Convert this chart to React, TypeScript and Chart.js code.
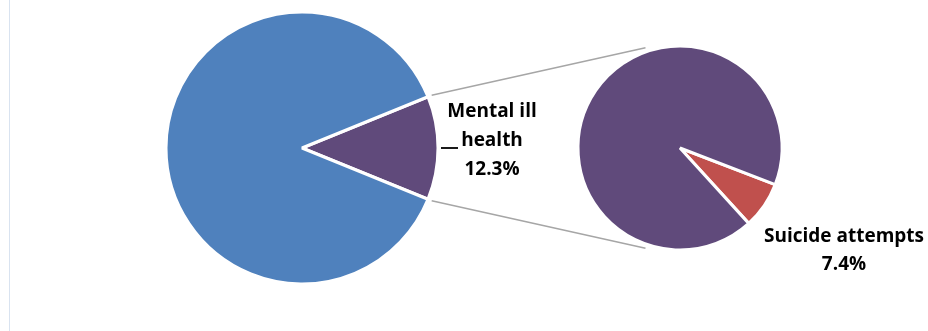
import { useEffect, useRef } from "react";
import { Chart, registerables } from "chart.js";

Chart.register(...registerables);

const mainCategories = ["Mental ill health", "Other"];
const mainValues = [12.3, 87.7];
const mainColors = ["#604a7b", "#4f81bd"];

const subCategories = ["Suicide attempts", "Other mental ill health"];
const subValues = [7.4, 92.6];
const subColors = ["#c0504d", "#604a7b"];

const mainLabelLines = ["Mental ill", "health", "12.3%"];
const subLabelLines = ["Suicide attempts", "7.4%"];

const W = 928;
const H = 331;
const FONT = "bold 19px 'Open Sans', 'Liberation Sans', sans-serif";

export default function App() {
  const leftRef = useRef<HTMLCanvasElement>(null);
  const rightRef = useRef<HTMLCanvasElement>(null);

  useEffect(() => {
    const mainTotal = mainValues.reduce((a, b) => a + b, 0);
    const left = new Chart(leftRef.current!, {
      type: "pie",
      data: {
        labels: mainCategories,
        datasets: [
          {
            data: mainValues,
            backgroundColor: mainColors,
            borderColor: "#ffffff",
            borderWidth: 3,
          },
        ],
      },
      options: {
        responsive: false,
        animation: false,
        rotation: 90 - (mainValues[0] / mainTotal) * 180,
        radius: 136,
        layout: { padding: { left: 0, right: 324, top: 0, bottom: 35 } },
        plugins: { legend: { display: false }, tooltip: { enabled: false } },
      } as any,
    });

    const overlay = {
      id: "overlay",
      beforeDatasetsDraw(chart: any) {
        const ctx = chart.ctx as CanvasRenderingContext2D;
        const la = left.getDatasetMeta(0).data[0] as any;
        const ra = chart.getDatasetMeta(0).data[0] as any;
        const lp = la.getProps(["x", "y", "startAngle", "endAngle", "outerRadius"], true);
        const rp = ra.getProps(["x", "y", "outerRadius"], true);
        const lr = lp.outerRadius + 4;
        const rr = rp.outerRadius + 4;
        const a = (109 * Math.PI) / 180;
        ctx.save();
        ctx.strokeStyle = "#a6a6a6";
        ctx.lineWidth = 1.5;
        ctx.beginPath();
        ctx.moveTo(lp.x + lr * Math.cos(lp.startAngle), lp.y + lr * Math.sin(lp.startAngle));
        ctx.lineTo(rp.x + rr * Math.cos(-a), rp.y + rr * Math.sin(-a));
        ctx.moveTo(lp.x + lr * Math.cos(lp.endAngle), lp.y + lr * Math.sin(lp.endAngle));
        ctx.lineTo(rp.x + rr * Math.cos(a), rp.y + rr * Math.sin(a));
        ctx.stroke();
        ctx.restore();
      },
      afterDraw(chart: any) {
        const ctx = chart.ctx as CanvasRenderingContext2D;
        const la = left.getDatasetMeta(0).data[0] as any;
        const ra = chart.getDatasetMeta(0).data[0] as any;
        const lp = la.getProps(["x", "y", "outerRadius"], true);
        const rp = ra.getProps(["x", "y", "outerRadius"], true);
        ctx.save();
        ctx.font = FONT;
        ctx.fillStyle = "#000000";
        ctx.textAlign = "center";
        ctx.textBaseline = "middle";
        const lx = lp.x + lp.outerRadius + 54;
        const ly0 = lp.y - 36;
        mainLabelLines.forEach((t, i) => ctx.fillText(t, lx, ly0 + i * 29));
        ctx.strokeStyle = "#1a1a1a";
        ctx.lineWidth = 2;
        ctx.beginPath();
        ctx.moveTo(lx - 51, ly0 + 29 + 7);
        ctx.lineTo(lx - 34, ly0 + 29 + 7);
        ctx.stroke();
        const rx = rp.x + 164;
        const ry0 = rp.y + 89;
        subLabelLines.forEach((t, i) => ctx.fillText(t, rx, ry0 + i * 28));
        ctx.restore();
      },
    };

    const right = new Chart(rightRef.current!, {
      type: "pie",
      data: {
        labels: subCategories,
        datasets: [
          {
            data: subValues,
            backgroundColor: subColors,
            borderColor: "#ffffff",
            borderWidth: 3,
          },
        ],
      },
      options: {
        responsive: false,
        animation: false,
        rotation: 111,
        radius: 102,
        layout: { padding: { left: 432, right: 0, top: 0, bottom: 35 } },
        plugins: { legend: { display: false }, tooltip: { enabled: false } },
      } as any,
      plugins: [overlay],
    });

    return () => {
      right.destroy();
      left.destroy();
    };
  }, []);

  return (
    <div
      style={{
        position: "fixed",
        left: 0,
        top: 0,
        width: W,
        height: H,
        background: "#ffffff",
        overflow: "hidden",
      }}
    >
      <div
        style={{
          position: "absolute",
          left: 9,
          top: 0,
          width: 1,
          height: H,
          background: "#d9e3f0",
        }}
      />
      <canvas
        ref={leftRef}
        width={W}
        height={H}
        style={{ position: "absolute", left: 0, top: 0, width: W, height: H }}
      />
      <canvas
        ref={rightRef}
        width={W}
        height={H}
        style={{ position: "absolute", left: 0, top: 0, width: W, height: H }}
      />
    </div>
  );
}
